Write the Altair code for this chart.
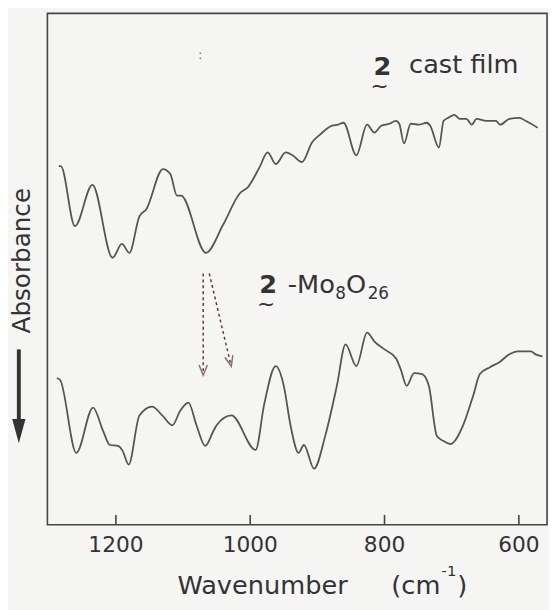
import altair as alt
import pandas as pd

# ---- data (x: wavenumber / cm-1, y: signal in arbitrary units) ----
WN_CAST = [1285, 1282, 1261, 1235, 1205, 1191, 1180, 1165, 1155, 1130, 1119, 1109, 1103, 1066,
           1040, 1016, 1003, 986, 974, 962, 947, 937, 923, 908, 896, 878, 869, 861, 842, 826,
           815, 805, 793, 783, 778, 771, 761, 749, 737, 732, 719, 712, 705, 696, 688, 678,
           670, 663, 648, 634, 628, 614, 599, 590, 572]
ABS_CAST = [364, 364, 303, 345, 271, 285, 276, 313, 320, 361, 356, 334, 334, 276,
            305, 336, 343, 363, 378, 366, 378, 375, 368, 388, 396, 405, 406, 408, 375, 406,
            398, 405, 407, 410, 407, 387, 407, 406, 408, 405, 383, 410, 413, 416, 412, 412,
            406, 412, 410, 410, 406, 412, 413, 410, 403]

WN_MO = [1288, 1283, 1259, 1234, 1219, 1209, 1197, 1190, 1181, 1165, 1146, 1131, 1116, 1104,
         1092, 1080, 1067, 1055, 1050, 1028, 992, 979, 962, 950, 940, 928, 920, 905, 888,
         871, 858, 842, 826, 815, 800, 783, 776, 767, 756, 744, 734, 722, 712, 702, 683,
         668, 658, 643, 629, 614, 602, 582, 575, 565]
ABS_MO = [149, 147, 73, 119, 95, 81, 80, 75, 61, 111, 120, 111, 101, 116,
          124, 101, 80, 95, 101, 111, 76, 123, 161, 141, 101, 73, 81, 57, 91,
          141, 183, 161, 195, 186, 178, 169, 158, 141, 154, 153, 141, 90, 85, 82, 101,
          131, 153, 160, 165, 173, 176, 176, 173, 171]

SERIES = ["2 cast film", "2-Mo8O26"]
TICKS = [1200, 1000, 800, 600]
TICK_LABELS = ["1200", "1000", "800", "600"]

# dotted arrows (start wn, start y, end wn, end y)
ARROW_X = [1070, 1061]
ARROW_Y = [255, 255]
ARROW_X2 = [1070, 1029]
ARROW_Y2 = [154, 163]
HEAD_X = [1070, 1030]
HEAD_Y = [157, 166]
HEAD_ANGLE = [0, 346]

XDOM = [558, 1302]
YDOM = [0, 519]
INK = "#333333"
FONT = "DejaVu Sans"

df = pd.concat([
    pd.DataFrame({"wn": WN_CAST, "a": ABS_CAST, "s": SERIES[0]}),
    pd.DataFrame({"wn": WN_MO, "a": ABS_MO, "s": SERIES[1]}),
])

xs = alt.Scale(domain=XDOM, reverse=True, nice=False, zero=False)
ys = alt.Scale(domain=YDOM, nice=False, zero=False)

lines = alt.Chart(df).mark_line(interpolate="monotone", color="#555555", strokeWidth=1.8).encode(
    x=alt.X("wn:Q", scale=xs, axis=None),
    y=alt.Y("a:Q", scale=ys, axis=None),
    detail="s:N",
)

tick_df = pd.DataFrame({"t": TICKS, "lab": TICK_LABELS, "y0": [0] * 4, "y1": [10] * 4})
ticks = alt.Chart(tick_df).mark_rule(color="#444444", strokeWidth=1.6).encode(
    x=alt.X("t:Q", scale=xs, axis=None),
    y=alt.Y("y0:Q", scale=ys, axis=None),
    y2="y1:Q",
)
tick_labels = alt.Chart(tick_df).mark_text(font=FONT, fontSize=22, color=INK,
                                           align="center", baseline="middle").encode(
    x=alt.X("t:Q", scale=xs, axis=None),
    y=alt.value(540),
    text="lab:N",
)

arr_df = pd.DataFrame({"x": ARROW_X, "y": ARROW_Y, "x2": ARROW_X2, "y2": ARROW_Y2})
arrows = alt.Chart(arr_df).mark_rule(color="#5a3a46", strokeWidth=1.5, strokeDash=[3, 3]).encode(
    x=alt.X("x:Q", scale=xs, axis=None), x2="x2:Q",
    y=alt.Y("y:Q", scale=ys, axis=None), y2="y2:Q",
)
head_df = pd.DataFrame({"x": HEAD_X, "y": HEAD_Y, "ang": HEAD_ANGLE})
heads = alt.Chart(head_df).mark_point(shape="M-0.8,-1L0,1L0.8,-1", filled=False, size=110,
                                      color="#5a3a46", strokeWidth=1.5).encode(
    x=alt.X("x:Q", scale=xs, axis=None),
    y=alt.Y("y:Q", scale=ys, axis=None),
    angle=alt.Angle("ang:Q", scale=None),
)


def label(text, x, y, size, **kw):
    opts = dict(fontSize=size, font=FONT, color=INK, align="left", baseline="alphabetic")
    opts.update(kw)
    return alt.Chart(pd.DataFrame({"t": [text]})).mark_text(**opts).encode(
        x=alt.value(x), y=alt.value(y), text="t:N")


texts = [
    label("2", 331, 63, 26, fontWeight="bold"),
    label("~", 337, 74, 22, align="center", baseline="middle"),
    label("cast film", 367, 61, 26),
    label("2", 215, 284, 26, fontWeight="bold"),
    label("~", 222, 295, 22, align="center", baseline="middle"),
    label("-Mo", 244, 284, 26),
    label("8", 292, 290, 17),
    label("O", 303, 284, 26),
    label("26", 325, 290, 17),
    label(":", 155, 46, 12, color="#666666", align="center"),
    label("Wavenumber", 132, 589, 26),
    label("(cm", 349, 589, 26),
    label("-1", 400, 571, 15),
    label(")", 416, 589, 26),
    label("Absorbance", -26, 251, 25, angle=270, align="center", baseline="middle"),
]

yarrow = alt.Chart(pd.DataFrame({"k": [0]})).mark_rule(color=INK, strokeWidth=4).encode(
    x=alt.value(-29), y=alt.value(341), y2=alt.value(414))
yhead = alt.Chart(pd.DataFrame({"k": [0]})).mark_point(
    shape="M-0.55,-1L0.55,-1L0,1Z", filled=True, size=600, color=INK, opacity=1).encode(
    x=alt.value(-29), y=alt.value(424))

chart = alt.layer(lines, ticks, tick_labels, arrows, heads, yarrow, yhead, *texts).properties(
    width=507, height=519,
    autosize="none",
    padding={"left": 40, "top": 1, "right": 2, "bottom": 82},
    background="#f5f5f3",
).configure_view(stroke="#444444", strokeWidth=1.6)

chart.save("out.html", embed_options={"renderer": "svg", "actions": False})
